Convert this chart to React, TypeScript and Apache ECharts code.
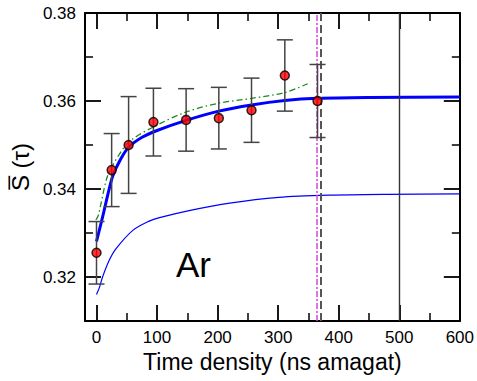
import React, { useEffect, useRef } from "react";
import * as echarts from "echarts";

// Measured points (time density in ns amagat, mean S(tau), error)
const densities = [0, 25, 53, 94, 148, 202, 256, 311, 365];
const sMeans = [0.3255, 0.3443, 0.35, 0.3552, 0.3557, 0.3561, 0.3579, 0.3658, 0.36];
const sErrors = [0.0071, 0.0083, 0.011, 0.0077, 0.0071, 0.007, 0.0073, 0.0081, 0.0083];

// Thick blue fit curve
const thickX = [0, 10, 19, 27, 40, 53, 76, 100, 148, 202, 256, 311, 365, 450, 600];
const thickY = [0.3281, 0.3336, 0.3389, 0.343, 0.3468, 0.3495, 0.3518, 0.3533, 0.3556, 0.3577, 0.3591, 0.3601, 0.3606, 0.3608, 0.3609];

// Thin blue curve
const thinX = [0, 5, 10, 21, 32, 60, 87, 104, 153, 220, 301, 383, 480, 600];
const thinY = [0.316, 0.3177, 0.32, 0.3238, 0.3264, 0.3306, 0.3327, 0.3335, 0.3351, 0.3368, 0.3381, 0.3386, 0.3388, 0.3389];

// Green dash-dot curve
const greenX = [-1, 3, 16, 25, 53, 94, 148, 202, 256, 311, 350];
const greenY = [0.333, 0.334, 0.342, 0.345, 0.3506, 0.3541, 0.3575, 0.3595, 0.3606, 0.3619, 0.364];

// Vertical reference lines
const magentaLineX = 363;
const dashedLineX = 370;
const solidLineX = 500;

// Axis ranges (ticks: x every 100 with minor at 50; y every 0.02 with minor at 0.01)
const X_MIN = -19;
const X_MAX = 600;
const X_SPLIT = 5;
const Y_MIN = 0.31;
const Y_MAX = 0.38;
const Y_SPLIT = 3;

const FONT = "'Liberation Sans', Arial, Helvetica, sans-serif";

const zip = (a: number[], b: number[]) => a.map((v, i) => [v, b[i]]);

export default function App() {
  const ref = useRef<HTMLDivElement>(null);

  useEffect(() => {
    if (!ref.current) return;
    const chart = echarts.init(ref.current, undefined, { renderer: "svg" });

    const makeX = (position: string, labels: boolean, name?: string) => ({
      type: "value",
      position,
      min: X_MIN,
      max: X_MAX,
      splitNumber: X_SPLIT,
      axisLine: { show: true, onZero: false, lineStyle: { color: "#000", width: 2 } },
      axisTick: { show: true, inside: true, length: 16, lineStyle: { color: "#000", width: 1.8 } },
      minorTick: { show: true, splitNumber: 2, length: 8, lineStyle: { color: "#000", width: 1.5 } },
      splitLine: { show: false },
      minorSplitLine: { show: false },
      axisLabel: labels
        ? {
            show: true,
            showMinLabel: false,
            showMaxLabel: true,
            fontSize: 17,
            color: "#000",
            fontFamily: FONT,
            margin: 8,
            formatter: (v: number) => String(Math.round(v)),
          }
        : { show: false },
      name,
      nameLocation: "middle",
      nameGap: 26,
      nameTextStyle: { fontSize: 23, color: "#000", fontFamily: FONT },
    });
    const makeY = (position: string, labels: boolean, name?: string) => ({
      type: "value",
      position,
      min: Y_MIN,
      max: Y_MAX,
      splitNumber: Y_SPLIT,
      axisLine: { show: true, onZero: false, lineStyle: { color: "#000", width: 2 } },
      axisTick: { show: true, inside: true, length: 16, lineStyle: { color: "#000", width: 1.8 } },
      minorTick: { show: true, splitNumber: 2, length: 8, lineStyle: { color: "#000", width: 1.5 } },
      splitLine: { show: false },
      minorSplitLine: { show: false },
      axisLabel: labels
        ? {
            show: true,
            showMinLabel: false,
            showMaxLabel: true,
            fontSize: 17,
            color: "#000",
            fontFamily: FONT,
            margin: 9,
            formatter: (v: number) => v.toFixed(2),
          }
        : { show: false },
      name,
      nameLocation: "middle",
      nameGap: 53,
      nameTextStyle: { fontSize: 24, color: "#000", fontFamily: FONT },
    });

    const option: any = {
      animation: false,
      grid: { left: 85, right: 13, top: 13, bottom: 60 },
      xAxis: [makeX("bottom", true, "Time density (ns amagat)"), makeX("top", false)],
      yAxis: [makeY("left", true, "S\u0305 (\u03C4)"), makeY("right", false)],
      graphic: [
        {
          type: "text",
          x: 176,
          y: 264,
          style: { text: "Ar", fontSize: 35, fontFamily: FONT, fill: "#000", verticalAlign: "middle", align: "left" },
          z: 10,
        },
      ],
      series: [
        {
          type: "line",
          data: zip(thinX, thinY),
          smooth: 0.3,
          showSymbol: false,
          lineStyle: { color: "#0000ff", width: 1.2 },
          z: 2,
          markLine: {
            silent: true,
            symbol: ["none", "none"],
            label: { show: false },
            data: [
              { xAxis: solidLineX, lineStyle: { color: "#333", width: 1.4, type: "solid" } },
              { xAxis: dashedLineX, lineStyle: { color: "#555", width: 2, type: [8, 4] } },
              { xAxis: magentaLineX, lineStyle: { color: "#e040e0", width: 1.5, type: [6, 2, 2, 2] } },
            ],
          },
        },
        {
          type: "line",
          data: zip(greenX, greenY),
          smooth: 0.3,
          showSymbol: false,
          lineStyle: { color: "#1a8a1a", width: 1.3, type: [6, 3, 1.5, 3] },
          z: 3,
        },
        {
          type: "line",
          data: zip(thickX, thickY),
          smooth: 0.3,
          showSymbol: false,
          lineStyle: { color: "#0000ff", width: 3 },
          z: 4,
        },
        {
          type: "custom",
          data: densities.map((d, i) => [d, sMeans[i], sErrors[i]]),
          encode: { x: 0, y: 1 },
          z: 5,
          renderItem: (params: any, api: any) => {
            const x = api.value(0);
            const y = api.value(1);
            const e = api.value(2);
            const hi = api.coord([x, y + e]);
            const lo = api.coord([x, y - e]);
            const hw = 8;
            const style = { stroke: "#444", lineWidth: 1.5 };
            return {
              type: "group",
              children: [
                { type: "line", shape: { x1: hi[0], y1: hi[1], x2: lo[0], y2: lo[1] }, style },
                { type: "line", shape: { x1: hi[0] - hw, y1: hi[1], x2: hi[0] + hw, y2: hi[1] }, style },
                { type: "line", shape: { x1: lo[0] - hw, y1: lo[1], x2: lo[0] + hw, y2: lo[1] }, style },
              ],
            };
          },
        },
        {
          type: "scatter",
          data: zip(densities, sMeans),
          symbol: "circle",
          symbolSize: 9,
          itemStyle: { color: "#ff0000", borderColor: "#000", borderWidth: 1.5 },
          z: 6,
        },
      ],
    };

    chart.setOption(option);
    return () => chart.dispose();
  }, []);

  return <div ref={ref} style={{ position: "fixed", left: 0, top: 0, width: 477, height: 381, background: "#fff" }} />;
}
